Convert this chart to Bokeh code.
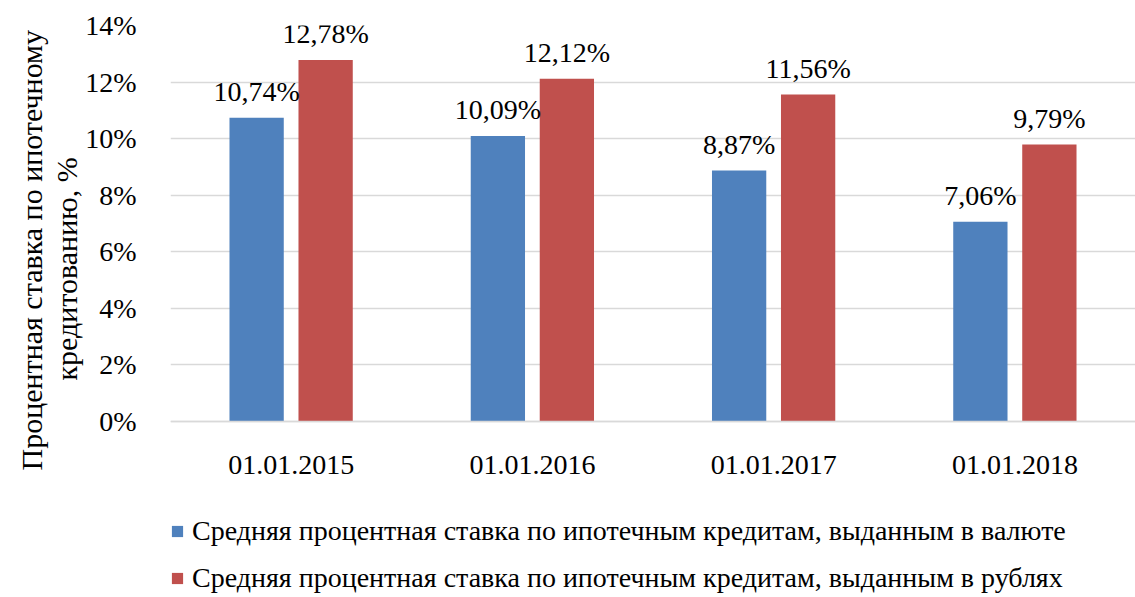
from bokeh.plotting import figure
from bokeh.models import (ColumnDataSource, FactorRange, Range1d, Legend, LegendItem,
                          LabelSet, Title, FixedTicker, CustomJSTickFormatter)
from bokeh.transform import dodge
from bokeh.embed import file_html
from bokeh.resources import INLINE

dates = ["01.01.2015", "01.01.2016", "01.01.2017", "01.01.2018"]
currency = [10.74, 10.09, 8.87, 7.06]
rubles = [12.78, 12.12, 11.56, 9.79]
series_names = ["Средняя процентная ставка по ипотечным кредитам, выданным в валюте",
                "Средняя процентная ставка по ипотечным кредитам, выданным в рублях"]
y_ticks = [0, 2, 4, 6, 8, 10, 12, 14]
y_title_lines = ["Процентная ставка по ипотечному", "кредитованию, %"]

FONT = "Liberation Serif"
FS = "28px"
BLUE = "#4F81BD"
RED = "#C0504D"

def fmt(v):
    return ("%.2f" % v).replace(".", ",") + "%"

src = ColumnDataSource(dict(
    x=dates, cur=currency, rub=rubles,
    cur_lbl=[fmt(v) for v in currency], rub_lbl=[fmt(v) for v in rubles],
))

# frame extends below zero so the legend can live inside it
p = figure(x_range=FactorRange(*dates, range_padding=0), y_range=Range1d(-6.222, 14),
           frame_width=965, frame_height=572, output_backend="svg",
           toolbar_location=None,
           min_border_left=170, min_border_top=25, min_border_right=0,
           min_border_bottom=0)
p.outline_line_color = None
p.background_fill_color = "white"
p.border_fill_color = "white"

r1 = p.vbar(x=dodge("x", -0.143, range=p.x_range), top="cur", width=0.225,
            source=src, fill_color=BLUE, line_color=None)
r2 = p.vbar(x=dodge("x", 0.143, range=p.x_range), top="rub", width=0.225,
            source=src, fill_color=RED, line_color=None)

for col, lbl, off in (("cur", "cur_lbl", -0.143), ("rub", "rub_lbl", 0.143)):
    ls = LabelSet(x=dodge("x", off, range=p.x_range), y=col, text=lbl, source=src,
                  text_align="center", text_baseline="alphabetic", y_offset=17,
                  text_font=FONT, text_font_size=FS, text_color="#000000")
    p.add_layout(ls)

p.xgrid.grid_line_color = None
p.ygrid.grid_line_color = "#D9D9D9"
p.ygrid.grid_line_width = 1.3
p.yaxis.ticker = FixedTicker(ticks=y_ticks)
p.yaxis.formatter = CustomJSTickFormatter(code="return tick + '%';")
for ax in (p.xaxis, p.yaxis):
    ax.major_tick_line_color = None
    ax.minor_tick_line_color = None
    ax.major_label_text_font = FONT
    ax.major_label_text_font_size = FS
    ax.major_label_text_color = "#000000"
p.yaxis.axis_line_color = None
p.xaxis.fixed_location = 0
p.xaxis.axis_line_color = "#D9D9D9"
p.xaxis.axis_line_width = 1.3
p.yaxis.major_label_standoff = 28
p.xaxis.major_label_standoff = 28

# line 2 (inner) first, then line 1 (outer)
for line, off in ((y_title_lines[1], 217), (y_title_lines[0], 127)):
    p.add_layout(Title(text=line, align="left", offset=off, standoff=0,
                       text_line_height=1.0,
                       text_font=FONT, text_font_size="30px",
                       text_font_style="normal", text_color="#000000"), "left")

legend = Legend(items=[LegendItem(label=series_names[0], renderers=[r1]),
                       LegendItem(label=series_names[1], renderers=[r2])],
                orientation="vertical", location=(0, 3),
                label_text_font=FONT, label_text_font_size=FS,
                label_text_color="#000000", glyph_width=14, glyph_height=14,
                label_standoff=8, label_height=28, spacing=15, padding=0, margin=0,
                border_line_color=None, background_fill_alpha=0)
p.add_layout(legend, "center")

open("out.html", "w").write(file_html(p, INLINE))
